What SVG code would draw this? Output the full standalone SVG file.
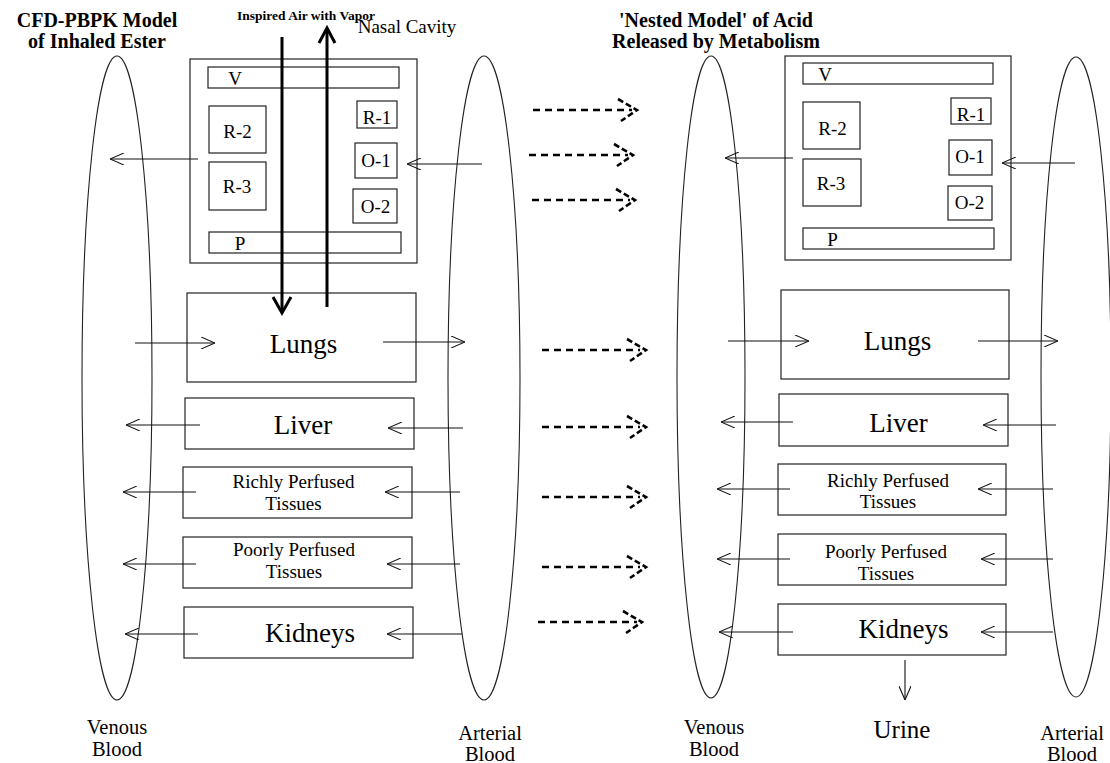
<svg xmlns="http://www.w3.org/2000/svg" width="1110" height="763" viewBox="0 0 1110 763">
<style>
text{font-family:"Liberation Serif","Times New Roman",serif;fill:#000}
.t{font-weight:bold}
.big{font-size:27px;text-anchor:middle}
.mid{font-size:19px;text-anchor:middle}
.lab{font-size:20.5px;text-anchor:middle}
.box{fill:#fff;stroke:#222;stroke-width:1.2}
.ell{fill:none;stroke:#222;stroke-width:1.1}
.ar{stroke:#111;stroke-width:1.1;fill:none;marker-end:url(#ah)}
.thick{stroke:#000;stroke-width:3;fill:none}
.dl{stroke:#000;stroke-width:2.6;stroke-dasharray:7 5;fill:none}
.dh{stroke:#000;stroke-width:2.6;stroke-dasharray:6 3;fill:none}
</style>
<defs>
<marker id="ah" viewBox="0 0 14 12" refX="14" refY="6" markerWidth="14" markerHeight="12" markerUnits="userSpaceOnUse" orient="auto">
<path d="M0,0 L14,6 L0,12" fill="none" stroke="#111" stroke-width="1.1"/>
</marker>
</defs>
<rect width="1110" height="763" fill="#fff"/>

<g id="titles">
<text class="t" x="97" y="27" font-size="20" text-anchor="middle">CFD-PBPK Model</text>
<text class="t" x="97" y="48" font-size="20" text-anchor="middle">of Inhaled Ester</text>
<text class="t" x="306" y="20" font-size="13.5" text-anchor="middle">Inspired Air with Vapor</text>
<text x="407" y="33" font-size="19" text-anchor="middle">Nasal Cavity</text>
<text class="t" x="716" y="27" font-size="20" text-anchor="middle">'Nested Model' of Acid</text>
<text class="t" x="716" y="48" font-size="20" text-anchor="middle">Released by Metabolism</text>
</g>

<g id="blood-vessels">
<ellipse id="venous-left" class="ell" cx="117" cy="378" rx="35" ry="322"/>
<ellipse id="arterial-left" class="ell" cx="484" cy="378" rx="36" ry="322"/>
<ellipse id="venous-right" class="ell" cx="711" cy="377" rx="34" ry="321"/>
<ellipse id="arterial-right" class="ell" cx="1076" cy="377" rx="35" ry="320"/>
</g>

<g id="nasal-left">
<rect class="box" x="190" y="59" width="227" height="204"/>
<rect class="box" x="208" y="67" width="191" height="21"/>
<text class="mid" x="235" y="85">V</text>
<rect class="box" x="209" y="106" width="57" height="47"/>
<text class="mid" x="237.5" y="138">R-2</text>
<rect class="box" x="209" y="162" width="57" height="48"/>
<text class="mid" x="237" y="193">R-3</text>
<rect class="box" x="357" y="101" width="40" height="27"/>
<text class="mid" x="377" y="124">R-1</text>
<rect class="box" x="355" y="143" width="42" height="35"/>
<text class="mid" x="376" y="167">O-1</text>
<rect class="box" x="353" y="189" width="44" height="34"/>
<text class="mid" x="375.5" y="213">O-2</text>
<rect class="box" x="209" y="232" width="192" height="21"/>
<text class="mid" x="240" y="250">P</text>
</g>

<g id="lungs-left">
<rect class="box" x="187" y="293" width="229" height="89"/>
<text class="big" x="303.5" y="353">Lungs</text>
</g>
<g id="liver-left">
<rect class="box" x="185" y="398" width="229" height="51"/>
<text class="big" x="303" y="434">Liver</text>
</g>
<g id="richly-left">
<rect class="box" x="183" y="467" width="229" height="51"/>
<text class="mid" x="293.5" y="488">Richly Perfused</text>
<text class="mid" x="293.5" y="510">Tissues</text>
</g>
<g id="poorly-left">
<rect class="box" x="183" y="537" width="229" height="51"/>
<text class="mid" x="294" y="556">Poorly Perfused</text>
<text class="mid" x="294" y="578">Tissues</text>
</g>
<g id="kidneys-left">
<rect class="box" x="184" y="607" width="229" height="51"/>
<text class="big" x="310" y="642">Kidneys</text>
</g>

<g id="nasal-right">
<rect class="box" x="785" y="56" width="226" height="204"/>
<rect class="box" x="803" y="63" width="190" height="21"/>
<text class="mid" x="825" y="81">V</text>
<rect class="box" x="803" y="102" width="57" height="47"/>
<text class="mid" x="832.5" y="135">R-2</text>
<rect class="box" x="803" y="159" width="58" height="47"/>
<text class="mid" x="831" y="190">R-3</text>
<rect class="box" x="951" y="98" width="40" height="26"/>
<text class="mid" x="971" y="121">R-1</text>
<rect class="box" x="949" y="140" width="43" height="35"/>
<text class="mid" x="970" y="163">O-1</text>
<rect class="box" x="948" y="186" width="44" height="34"/>
<text class="mid" x="969.5" y="209">O-2</text>
<rect class="box" x="803" y="228" width="191" height="21"/>
<text class="mid" x="832.5" y="246">P</text>
</g>

<g id="lungs-right">
<rect class="box" x="781" y="290" width="228" height="89"/>
<text class="big" x="897.5" y="350">Lungs</text>
</g>
<g id="liver-right">
<rect class="box" x="779" y="394" width="229" height="52"/>
<text class="big" x="898.5" y="432">Liver</text>
</g>
<g id="richly-right">
<rect class="box" x="778" y="464" width="228" height="51"/>
<text class="mid" x="888" y="487">Richly Perfused</text>
<text class="mid" x="888" y="508">Tissues</text>
</g>
<g id="poorly-right">
<rect class="box" x="778" y="534" width="228" height="51"/>
<text class="mid" x="886" y="558">Poorly Perfused</text>
<text class="mid" x="886" y="580">Tissues</text>
</g>
<g id="kidneys-right">
<rect class="box" x="778" y="604" width="228" height="51"/>
<text class="big" x="903.5" y="638">Kidneys</text>
</g>

<g id="labels">
<text class="lab" x="117" y="734">Venous</text>
<text class="lab" x="117" y="756">Blood</text>
<text class="lab" x="490" y="740">Arterial</text>
<text class="lab" x="490" y="761">Blood</text>
<text class="lab" x="714" y="734">Venous</text>
<text class="lab" x="714" y="756">Blood</text>
<text x="902" y="738" font-size="25" text-anchor="middle">Urine</text>
<text class="lab" x="1072" y="740">Arterial</text>
<text class="lab" x="1072" y="761">Blood</text>
</g>

<g id="connectors">
<line class="thick" x1="282" y1="37" x2="282" y2="312"/>
<path class="thick" d="M273,297 L282,313 L291,297"/>
<line class="thick" x1="327" y1="307" x2="327" y2="30"/>
<path class="thick" d="M319,43 L327,28 L335,43"/>
<line class="ar" x1="198" y1="159" x2="110" y2="159"/>
<line class="ar" x1="482" y1="164" x2="407" y2="164"/>
<line class="ar" x1="135" y1="343" x2="215" y2="343"/>
<line class="ar" x1="383" y1="342" x2="465" y2="342"/>
<line class="ar" x1="200" y1="425" x2="126" y2="425"/>
<line class="ar" x1="463" y1="428" x2="388" y2="428"/>
<line class="ar" x1="196" y1="492" x2="123" y2="492"/>
<line class="ar" x1="460" y1="492" x2="385" y2="492"/>
<line class="ar" x1="196" y1="564" x2="123" y2="564"/>
<line class="ar" x1="460" y1="564" x2="387" y2="564"/>
<line class="ar" x1="198" y1="634" x2="125" y2="634"/>
<line class="ar" x1="462" y1="634" x2="387" y2="634"/>
<line class="ar" x1="793" y1="158" x2="725" y2="158"/>
<line class="ar" x1="1075" y1="163" x2="1002" y2="163"/>
<line class="ar" x1="728" y1="341" x2="809" y2="341"/>
<line class="ar" x1="978" y1="341" x2="1058" y2="341"/>
<line class="ar" x1="793" y1="422" x2="721" y2="422"/>
<line class="ar" x1="1056" y1="425" x2="983" y2="425"/>
<line class="ar" x1="790" y1="489" x2="717" y2="489"/>
<line class="ar" x1="1053" y1="489" x2="978" y2="489"/>
<line class="ar" x1="790" y1="559" x2="717" y2="559"/>
<line class="ar" x1="1053" y1="559" x2="981" y2="559"/>
<line class="ar" x1="793" y1="632" x2="719" y2="632"/>
<line class="ar" x1="1053" y1="632" x2="981" y2="632"/>
<line class="ar" x1="905" y1="660" x2="905" y2="700"/>
<line class="dl" x1="533" y1="110" x2="632" y2="110"/><path class="dh" d="M618,99 L637,110 L621,121"/>
<line class="dl" x1="529" y1="155" x2="628" y2="155"/><path class="dh" d="M614,144 L633,155 L617,166"/>
<line class="dl" x1="532" y1="200" x2="630" y2="200"/><path class="dh" d="M616,189 L635,200 L619,211"/>
<line class="dl" x1="542" y1="350" x2="640" y2="350"/><path class="dh" d="M627,339 L646,350 L630,361"/>
<line class="dl" x1="542" y1="427" x2="640" y2="427"/><path class="dh" d="M627,416 L646,427 L630,438"/>
<line class="dl" x1="542" y1="497" x2="640" y2="497"/><path class="dh" d="M627,486 L646,497 L630,508"/>
<line class="dl" x1="542" y1="567" x2="640" y2="567"/><path class="dh" d="M627,556 L646,567 L630,578"/>
<line class="dl" x1="538" y1="622" x2="637" y2="622"/><path class="dh" d="M623,611 L642,622 L626,633"/>
</g>
</svg>
